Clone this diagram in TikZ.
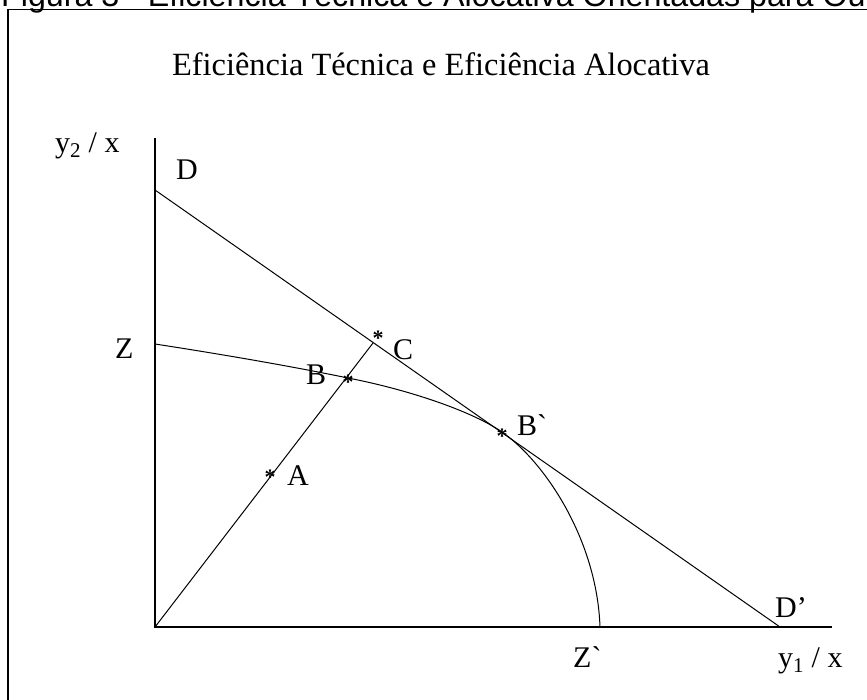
\documentclass[tikz,border=0pt]{standalone}
\usepackage{fontspec}
\setmainfont{Liberation Serif}
\newfontfamily\capfont{Liberation Sans}
\begin{document}
\begin{tikzpicture}[x=1pt,y=-1pt,
  lbl/.style={inner sep=0pt, anchor=base west, font=\fontsize{30}{30}\selectfont},
  ttl/.style={inner sep=0pt, anchor=base, font=\fontsize{32.4}{32.4}\selectfont},
  starmark/.style={inner sep=0pt, anchor=base, font=\bfseries\fontsize{22}{22}\selectfont, yshift=-11.5pt},
  thinline/.style={line width=1pt},
  axisline/.style={line width=1.6pt},
  frameline/.style={line width=1.8pt}]
\useasboundingbox (0,0) rectangle (867,699);
\clip (0,0) rectangle (867,699);
% caption (clipped at the top of the picture)
\node[inner sep=0pt, anchor=base west, font=\capfont\fontsize{32.2}{32.2}\selectfont] (cap) at (1,6) {Figura 3 - Eficiência Técnica e Alocativa Orientadas para Ou};
\draw[line width=1pt] (753,0) -- (753,9.5);
% frame
\draw[frameline] (8,9.5) rectangle (890,720);
% title
\node[ttl] (title) at (441,75) {Eficiência Técnica e Eficiência Alocativa};
% points
\coordinate (O) at (155,627);
\coordinate (Ytop) at (155,138);
\coordinate (Xend) at (832,627);
\coordinate (Dtop) at (155,190);
\coordinate (Dp) at (780,627);
\coordinate (Z) at (155,344);
\coordinate (B) at (348,378);
\coordinate (Bp) at (502,432);
\coordinate (Zp) at (600,627);
\coordinate (C) at (373,343);
% axes
\draw[axisline] (Ytop) -- (O) -- (Xend);
% budget line D-D'
\draw[thinline] (Dtop) -- (Dp);
% frontier Z-Z'
\draw[thinline] (Z) .. controls (220,354) and (290,366) .. (B)
  .. controls (405,389) and (470,410) .. (Bp)
  .. controls (545,462) and (597,540) .. (Zp);
% ray from origin
\draw[thinline] (O) -- (C);
% star marks
\node[starmark] (sA) at (270,473) {*};
\node[starmark] (sB) at (348,378) {*};
\node[starmark] (sC) at (378,334) {*};
\node[starmark] (sBp) at (502,432) {*};
% labels
\node[lbl] (ly2) at (55,152) {y\textsubscript{2} / x};
\node[lbl] (lD) at (176,179) {D};
\node[lbl] (lZ) at (115,358) {Z};
\node[lbl] (lB) at (306,384) {B};
\node[lbl] (lC) at (393,359) {C};
\node[lbl] (lBp) at (517,435) {B\textasciigrave};
\node[lbl] (lA) at (287,485) {A};
\node[lbl] (lDp) at (775,617) {D'};
\node[lbl] (lZp) at (573,667) {Z\textasciigrave};
\node[lbl] (ly1) at (778,667) {y\textsubscript{1} / x};
\end{tikzpicture}
\end{document}
